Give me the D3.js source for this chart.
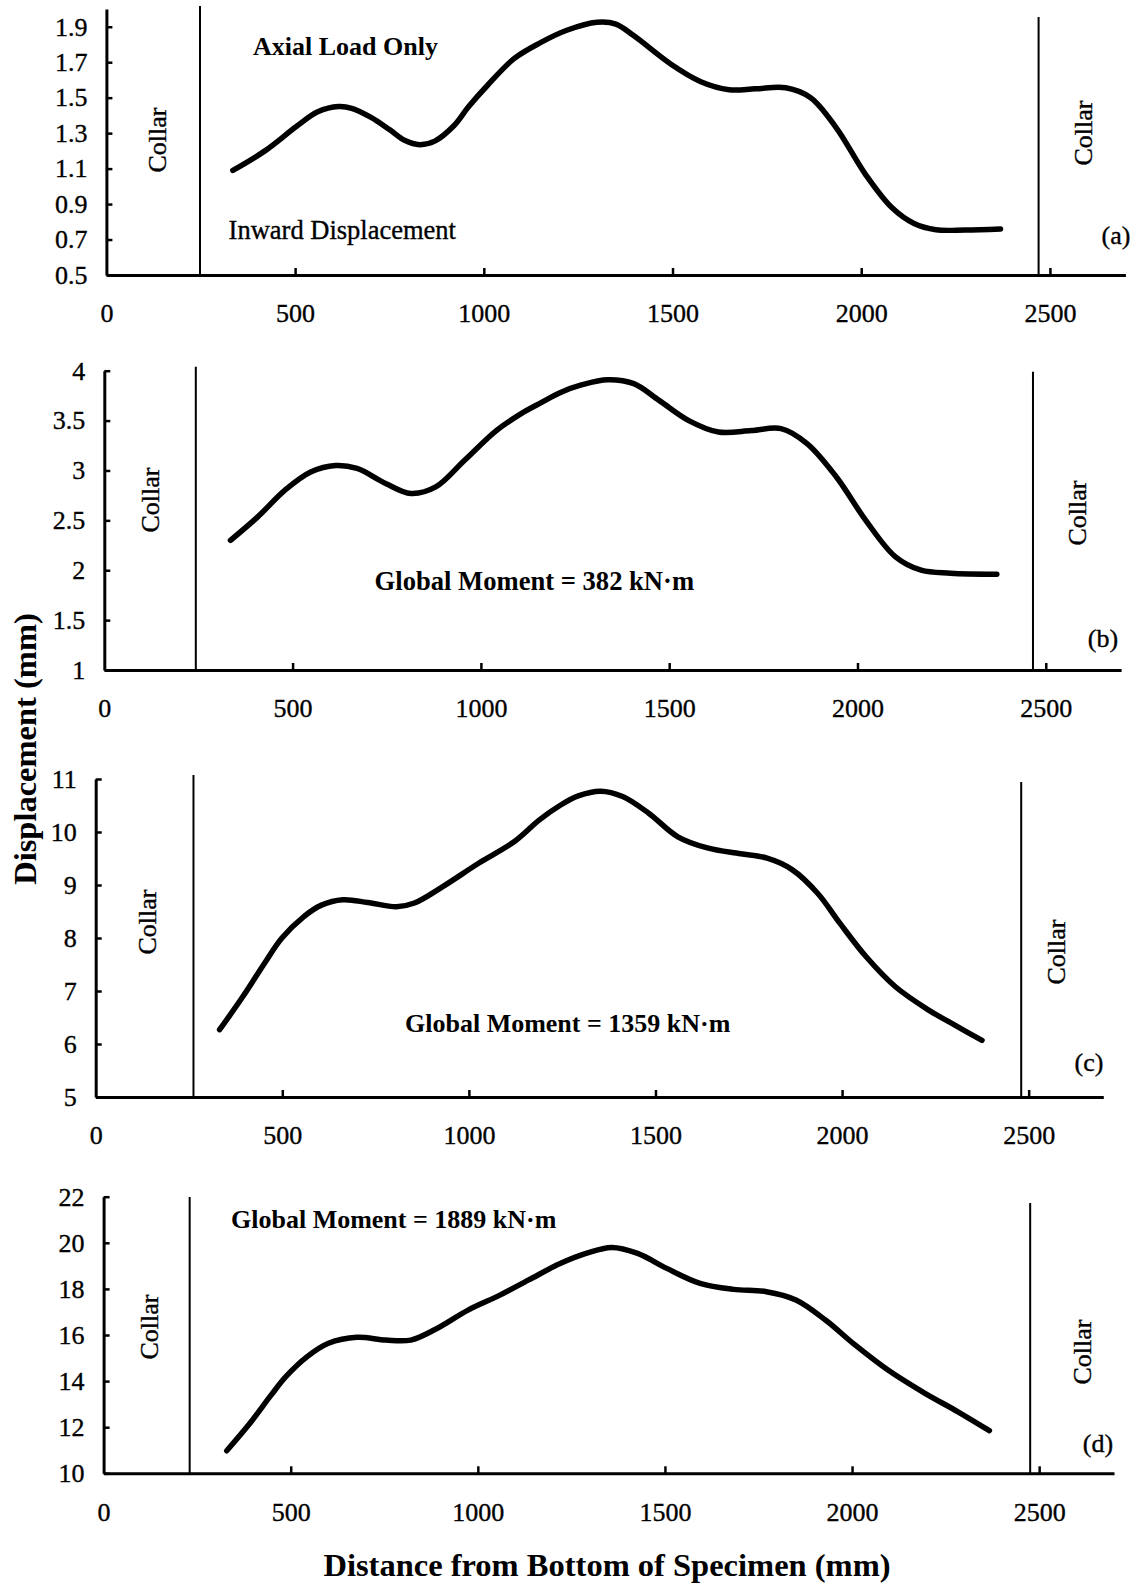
<!DOCTYPE html>
<html><head><meta charset="utf-8">
<script src="https://cdn.jsdelivr.net/npm/d3@7"></script>
<style>
html,body{margin:0;padding:0;background:#fff;}
svg{display:block;font-family:"Liberation Serif","Times New Roman",serif;}
</style></head><body>
<svg id="c" width="1138" height="1587"></svg>
<script>
// ---------- data ----------
const xTicks = [0, 500, 1000, 1500, 2000, 2500];

const xA = [335,420,505,560,615,650,700,750,790,830,870,920,960,1010,1080,1150,1220,1300,1350,1397,1495,1575,1650,1720,1800,1866,1934,2012,2081,2140,2198,2276,2369];
const yA = [1.09,1.20,1.34,1.42,1.45,1.44,1.39,1.32,1.26,1.235,1.255,1.34,1.45,1.57,1.72,1.81,1.88,1.925,1.915,1.85,1.69,1.59,1.545,1.55,1.556,1.50,1.33,1.065,0.88,0.79,0.755,0.754,0.76];

const xB = [335,406,482,548,614,671,747,814,880,956,1041,1107,1160,1210,1269,1337,1406,1474,1552,1631,1719,1797,1866,1944,2022,2101,2169,2247,2370];
const yB = [2.30,2.53,2.81,2.985,3.05,3.02,2.87,2.77,2.835,3.10,3.40,3.57,3.68,3.78,3.86,3.91,3.87,3.70,3.50,3.385,3.40,3.42,3.27,2.935,2.50,2.134,2.00,1.97,1.96];

const xC = [332,394,452,499,557,605,662,729,806,854,930,1026,1122,1189,1244,1293,1353,1412,1481,1560,1639,1728,1797,1866,1935,1994,2064,2143,2232,2301,2375];
const yC = [6.27,6.89,7.52,8.0,8.40,8.62,8.72,8.67,8.59,8.66,8.97,9.41,9.82,10.23,10.50,10.68,10.77,10.67,10.36,9.91,9.70,9.59,9.51,9.29,8.84,8.28,7.65,7.08,6.64,6.36,6.07];

const xD = [329,391,448,487,544,601,677,754,821,887,974,1059,1136,1220,1289,1358,1427,1505,1594,1683,1771,1850,1929,2008,2096,2195,2283,2367];
const yD = [10.98,12.17,13.40,14.19,15.06,15.64,15.90,15.78,15.78,16.25,17.08,17.73,18.39,19.1,19.54,19.80,19.54,18.89,18.24,17.98,17.88,17.52,16.65,15.57,14.48,13.47,12.67,11.85];

const yTicksA = [0.5,0.7,0.9,1.1,1.3,1.5,1.7,1.9];
const yTicksB = [1,1.5,2,2.5,3,3.5,4];
const yTicksC = [5,6,7,8,9,10,11];
const yTicksD = [10,12,14,16,18,20,22];

const yDomainA = [0.5, 2.0];
const yDomainB = [1, 4];
const yDomainC = [5, 11];
const yDomainD = [10, 22];
const xDomain = [0, 2700];

const collarsA = [248, 2470];
const collarsB = [243, 2466];
const collarsC = [262, 2480];
const collarsD = [230, 2476];

const panelLabels = ["(a)", "(b)", "(c)", "(d)"];
const notes = ["Axial Load Only", "Global Moment = 382 kN\u00B7m", "Global Moment = 1359 kN\u00B7m", "Global Moment = 1889 kN\u00B7m"];
const collarText = "Collar";
const extraNote = "Inward Displacement";
const yTitle = "Displacement (mm)";
const xTitle = "Distance from Bottom of Specimen (mm)";

// ---------- layout ----------
const panels = [
  {xs:xA, ys:yA, yt:yTicksA, yd:yDomainA, col:collarsA, fmt:d3.format(".1f"),
   xr:[106.4,1125.4], yr:[275,9], colTop:[6,17],
   note:[253,55], lab:[1116,244], colL:[157,140], colR:[1083,133]},
  {xs:xB, ys:yB, yt:yTicksB, yd:yDomainB, col:collarsB, fmt:d=>String(d),
   xr:[104.3,1121.1], yr:[670,370.7], colTop:[366.7,371.7],
   note:[374.6,590], lab:[1103,647], colL:[150,500], colR:[1077,513]},
  {xs:xC, ys:yC, yt:yTicksC, yd:yDomainC, col:collarsC, fmt:d=>String(d),
   xr:[95.7,1103.3], yr:[1097,779], colTop:[775,782],
   note:[405,1032], lab:[1089,1071], colL:[147,922], colR:[1056,952]},
  {xs:xD, ys:yD, yt:yTicksD, yd:yDomainD, col:collarsD, fmt:d=>String(d),
   xr:[103.6,1114], yr:[1473.3,1196.7], colTop:[1197,1203],
   note:[231,1228], lab:[1098,1452], colL:[149,1327], colR:[1082,1352]}
];

const svg = d3.select("#c");
const FS = 26;

function ink(sel) { return sel.attr("fill", "#000").attr("stroke", "#000").attr("stroke-width", 0.35); }

panels.forEach((p, i) => {
  const x = d3.scaleLinear().domain(xDomain).range(p.xr);
  const y = d3.scaleLinear().domain(p.yd).range(p.yr);
  const g = svg.append("g");

  // x axis
  const xa = g.append("g").attr("transform", `translate(0,${p.yr[0]})`)
    .call(d3.axisBottom(x).tickValues(xTicks).tickSizeInner(-7).tickSizeOuter(0).tickPadding(29).tickFormat(d3.format("d")));
  xa.select(".domain").attr("stroke-width", 3);
  xa.selectAll(".tick line").attr("stroke-width", 2.5).filter(d => d === 0).remove();
  ink(xa.selectAll(".tick text").attr("font-size", FS).attr("font-family", "Liberation Serif"));

  // y axis
  const ya = g.append("g").attr("transform", `translate(${p.xr[0]},0)`)
    .call(d3.axisLeft(y).tickValues(p.yt).tickSizeInner(-6).tickSizeOuter(0).tickPadding(19).tickFormat(p.fmt));
  ya.select(".domain").attr("stroke-width", 3);
  ya.selectAll(".tick line").attr("stroke-width", 2.5);
  ink(ya.selectAll(".tick text").attr("font-size", FS).attr("font-family", "Liberation Serif"));

  // collars
  p.col.forEach((c, k) => {
    g.append("line").attr("x1", x(c)).attr("x2", x(c))
      .attr("y1", p.colTop[k]).attr("y2", p.yr[0])
      .attr("stroke", "#000").attr("stroke-width", 2);
  });
  [p.colL, p.colR].forEach(pos => {
    ink(g.append("text").attr("transform", `translate(${pos[0]},${pos[1]}) rotate(-90)`)
      .attr("text-anchor", "middle").attr("dy", "0.35em")
      .attr("font-size", FS).text(collarText));
  });

  // curve
  const pts = p.xs.map((v, j) => [v, p.ys[j]]);
  g.append("path").datum(pts)
    .attr("d", d3.line().x(d => x(d[0])).y(d => y(d[1])).curve(d3.curveCatmullRom.alpha(0.5)))
    .attr("fill", "none").attr("stroke", "#000").attr("stroke-width", 5.5)
    .attr("stroke-linecap", "round").attr("stroke-linejoin", "round");

  // annotations
  g.append("text").attr("x", p.note[0]).attr("y", p.note[1])
    .attr("font-size", i === 1 ? 26.6 : FS).attr("font-weight", "bold").text(notes[i]);
  ink(g.append("text").attr("x", p.lab[0]).attr("y", p.lab[1]).attr("text-anchor", "middle")
    .attr("font-size", FS).text(panelLabels[i]));
  if (i === 0) {
    ink(g.append("text").attr("x", 228.6).attr("y", 238.6).attr("font-size", 26.5).text(extraNote));
  }
});

// titles
svg.append("text").attr("transform", "translate(25,749) rotate(-90)")
  .attr("text-anchor", "middle").attr("dy", "0.35em")
  .attr("font-size", 32.5).attr("font-weight", "bold").text(yTitle);
svg.append("text").attr("x", 607).attr("y", 1576)
  .attr("text-anchor", "middle")
  .attr("font-size", 32.5).attr("font-weight", "bold").text(xTitle);
</script>
</body></html>
